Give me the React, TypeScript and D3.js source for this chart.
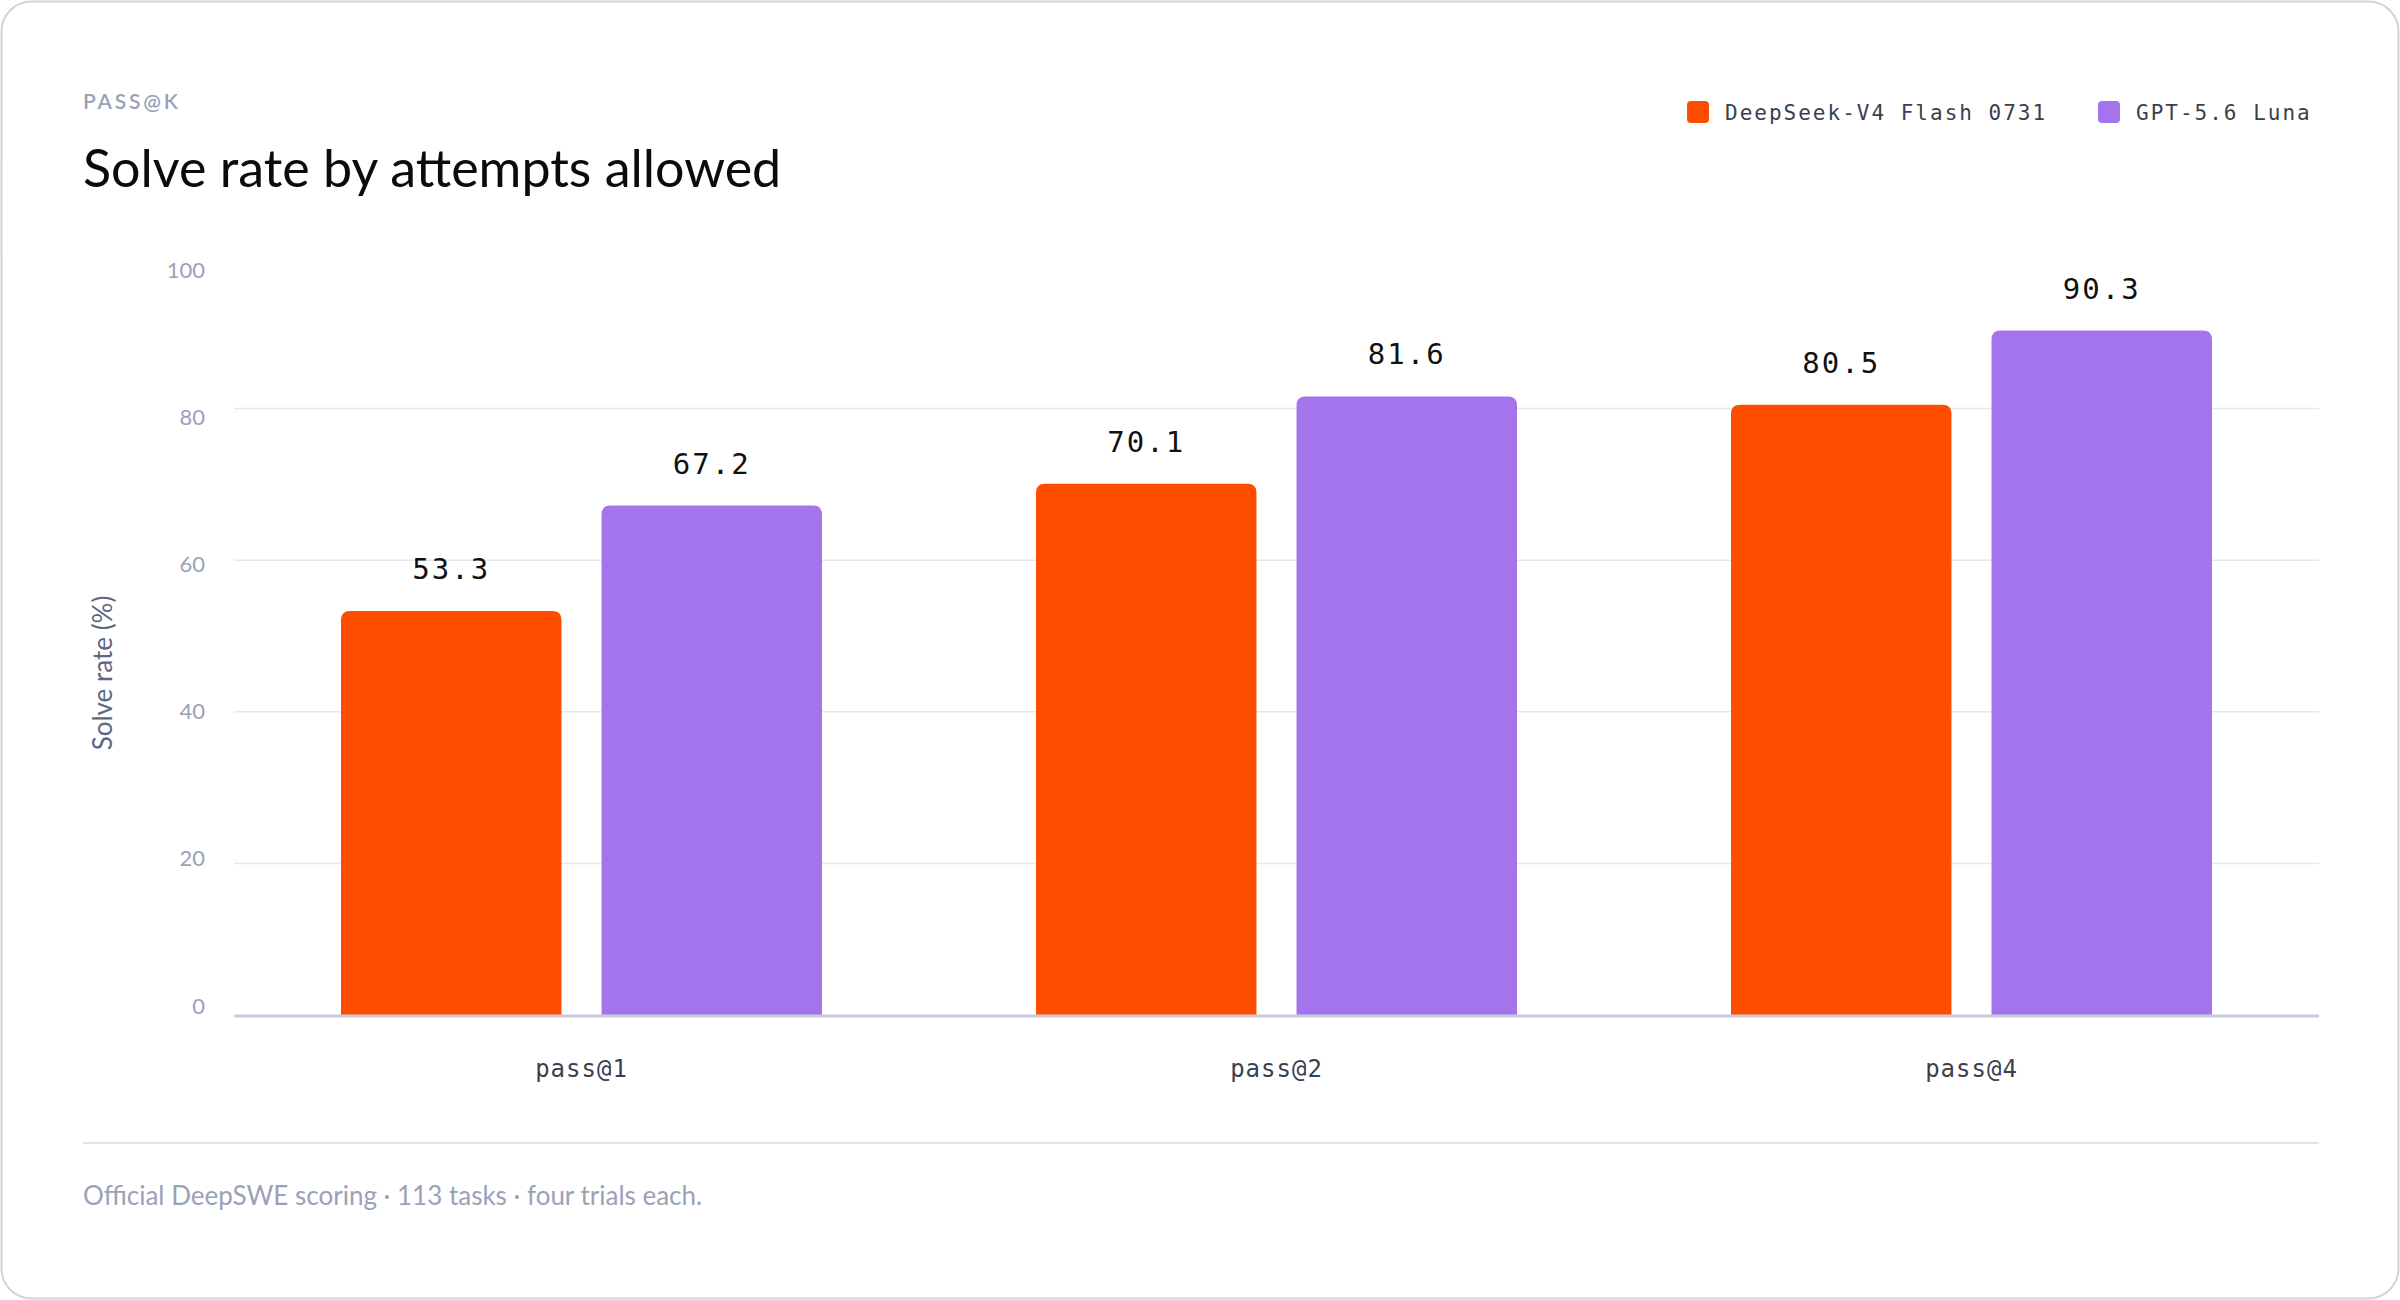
import * as d3 from 'd3';
import { useEffect } from 'react';

const categories = ['pass@1', 'pass@2', 'pass@4'];
const seriesNames = ['DeepSeek-V4 Flash 0731', 'GPT-5.6 Luna'];
const seriesColours = ['#ff4d00', '#a374ec'];
const deepseekValues = [53.3, 70.1, 80.5];
const gptValues = [67.2, 81.6, 90.3];
const yTicks = [0, 20, 40, 60, 80, 100];

const W = 2400;
const H = 1300;
const margin = { left: 234, right: 81, top: 257, bottom: 285 };
const sans = 'Lato, "Noto Sans", sans-serif';
const mono = '"DejaVu Sans Mono", "Liberation Mono", monospace';

export default function App() {
  useEffect(() => {
    document.body.style.margin = '0';
  }, []);

  const x = d3.scaleBand(categories, [margin.left, W - margin.right]);
  const inner = d3
    .scaleBand(seriesNames, [107, x.bandwidth() - 107])
    .paddingInner(40 / 260);
  const y = d3.scaleLinear([0, 100], [H - margin.bottom, margin.top]);
  const series = [deepseekValues, gptValues];

  const barPath = (x0: number, w: number, yTop: number, yBot: number) => {
    const r = 9;
    return `M${x0},${yBot}V${yTop + r}Q${x0},${yTop} ${x0 + r},${yTop}H${x0 + w - r}Q${x0 + w},${yTop} ${x0 + w},${yTop + r}V${yBot}Z`;
  };

  return (
    <svg width={W} height={H} style={{ display: 'block' }}>
      <rect x={1.5} y={1.5} width={W - 3} height={H - 3} rx={30} fill="#fff" stroke="#cfd3de" strokeWidth={2} />
      <text x={83} y={109} fontFamily={sans} fontSize={21} fontWeight={600} letterSpacing={2.8} fill="#9aa1b8">PASS@K</text>
      <text x={83} y={187} fontFamily={sans} fontSize={52} fill="#0b0b0f">Solve rate by attempts allowed</text>

      {seriesNames.map((s, i) => {
        const lx = [1687, 2098][i];
        return (
          <g key={s}>
            <rect x={lx} y={101} width={22} height={22} rx={4} fill={seriesColours[i]} />
            <text x={lx + 38} y={120} fontFamily={mono} fontSize={21} letterSpacing={2} fill="#3a4050">{s}</text>
          </g>
        );
      })}

      {yTicks.map((t) => (
        <g key={t}>
          {t > 0 && t < 100 && (
            <line x1={margin.left} x2={W - margin.right} y1={y(t)} y2={y(t)} stroke="#e6e8ee" strokeWidth={1.5} />
          )}
          <text x={205} y={y(t) + 20.5 - (100 - t) * 0.22} textAnchor="end" fontFamily={sans} fontSize={22} fill="#9aa1b8">{t}</text>
        </g>
      ))}

      <text transform={`translate(112,673) rotate(-90)`} textAnchor="middle" fontFamily={sans} fontSize={26} fill="#5d6784">Solve rate (%)</text>

      {categories.map((c, ci) => (
        <g key={c}>
          {series.map((vals, si) => {
            const bx = (x(c) ?? 0) + (inner(seriesNames[si]) ?? 0);
            const bw = inner.bandwidth();
            return (
              <g key={si}>
                <path d={barPath(bx, bw, y(vals[ci]), y(0))} fill={seriesColours[si]} />
                <text x={bx + bw / 2} y={y(vals[ci]) - 32} textAnchor="middle" fontFamily={mono} fontSize={29} letterSpacing={2} fill="#111">{vals[ci].toFixed(1)}</text>
              </g>
            );
          })}
          <text x={(x(c) ?? 0) + x.bandwidth() / 2} y={1077} textAnchor="middle" fontFamily={mono} fontSize={24} letterSpacing={1} fill="#3a4050">{c}</text>
        </g>
      ))}

      <line x1={margin.left} x2={W - margin.right} y1={y(0) + 1} y2={y(0) + 1} stroke="#c8cbd9" strokeWidth={3} />
      <line x1={83} x2={W - margin.right} y1={1143} y2={1143} stroke="#e1e3ea" strokeWidth={2} />
      <text x={83} y={1205} fontFamily={sans} fontSize={26} fill="#9aa1b8">Official DeepSWE scoring · 113 tasks · four trials each.</text>
    </svg>
  );
}
